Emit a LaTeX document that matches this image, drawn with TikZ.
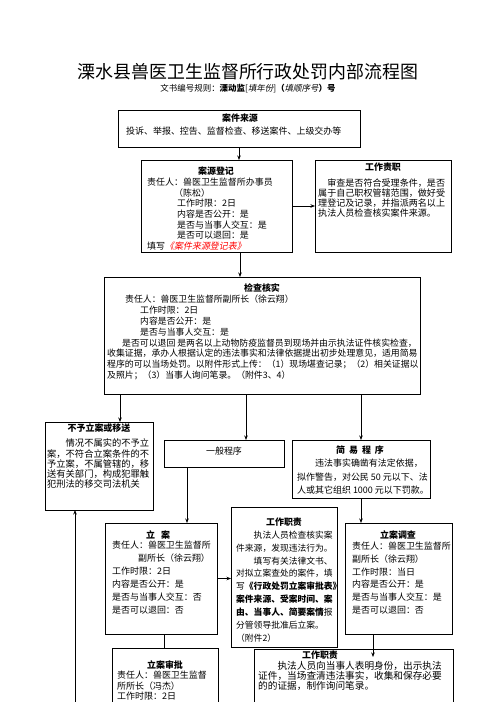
\documentclass[tikz,border=0pt]{standalone}
\usepackage{fontspec}
\setmainfont{Noto Sans CJK SC}
\newfontfamily\slantfont{Noto Sans CJK SC}[FakeSlant=0.2]
\usepackage{xcolor}
\usetikzlibrary{positioning,arrows.meta}

\tikzset{
  box/.style={draw, line width=0.8bp, anchor=north west, inner sep=0pt, outer sep=0pt},
  head/.style={font=\bfseries\fontsize{9}{11}\selectfont, inner sep=0pt},
  body/.style n args={2}{anchor=north west, align=left, inner sep=0pt, font=\fontsize{#1}{#2}\selectfont},
  link/.style={-{Stealth[length=4.5bp,width=3.5bp]}, line width=0.7bp},
  plain/.style={line width=0.7bp},
}

\begin{document}
\begin{tikzpicture}[x=1bp,y=-1bp]
\useasboundingbox (0,0) rectangle (496,702);
\fill[white] (0,0) rectangle (496,702);
\clip (0,0) rectangle (496,702);

% title
\node[font=\fontsize{18}{20}\selectfont, inner sep=0pt] (title) at (248,72) {溧水县兽医卫生监督所行政处罚内部流程图};
\node[font=\fontsize{8.5}{10}\selectfont, inner sep=0pt] (rule) at (248,89)
  {文书编号规则：\textbf{溧动监}[{\slantfont 填年份}]\textbf{（}{\slantfont 填顺序号}\textbf{）号}};

% boxes
\node[box, minimum width=242bp, minimum height=37bp] (src) at (118,110) {};
\node[box, minimum width=151bp, minimum height=92bp] (reg) at (141,160) {};
\node[box, minimum width=136bp, minimum height=92bp] (duty1) at (315,160) {};
\node[box, minimum width=316bp, minimum height=117bp] (check) at (104,277) {};
\node[box, minimum width=108bp, minimum height=88bp] (noreg) at (45,422) {};
\node[box, minimum width=120bp, minimum height=27bp] (general) at (164,440) {};
\node[box, minimum width=138bp, minimum height=58bp] (simple) at (292,440) {};
\node[box, minimum width=112bp, minimum height=111bp] (file) at (105,523) {};
\node[box, minimum width=106bp, minimum height=140bp] (duty2) at (231,507) {};
\node[box, minimum width=107bp, minimum height=111bp] (invest) at (345,523) {};
\node[box, minimum width=106bp, minimum height=90bp] (approve) at (112,648) {};
\node[box, minimum width=199bp, minimum height=90bp] (duty3) at (254,649) {};

% 案件来源
\node[head] (srcT) at (240,118) {案件来源};
\node[body={9}{11}, anchor=west] (srcB) at (126,131) {投诉、举报、控告、监督检查、移送案件、上级交办等};

% 案源登记
\node[head] (regT) at (216,171) {案源登记};
\node[body={9}{10.7}] (regB) at (147,177.8) {责任人：兽医卫生监督所办事员\\
  \hspace*{27bp}（陈松）\\
  \hspace*{30bp}工作时限：2日\\
  \hspace*{30bp}内容是否公开：是\\
  \hspace*{30bp}是否与当事人交互：是\\
  \hspace*{30bp}是否可以退回：是\\
  填写{\color{red}\slantfont《案件来源登记表》}};

% 工作责职
\node[head] (duty1T) at (383,167) {工作责职};
\node[body={9.1}{10}] (duty1B) at (318,178.8) {　审查是否符合受理条件，是否\\
  属于自己职权管辖范围，做好受\\
  理登记及记录，并指派两名以上\\
  执法人员检查核实案件来源。};

% 检查核实
\node[head] (checkT) at (262,288) {检查核实};
\node[body={8.9}{10.9}] (checkB) at (107,294.8) {\hspace*{18bp}责任人：兽医卫生监督所副所长（徐云翔）\\
  \hspace*{33bp}工作时限：2日\\
  \hspace*{33bp}内容是否公开：是\\
  \hspace*{33bp}是否与当事人交互：是\\
  \hspace*{15bp}是否可以退回 是两名以上动物防疫监督员到现场并由示执法证件核实检查，\\
  收集证据，承办人根据认定的违法事实和法律依据提出初步处理意见，适用简易\\
  程序的可以当场处罚。以附件形式上传：（1）现场堪查记录；（2）相关证据以\\
  及照片；（3）当事人询问笔录。（附件3、4）};

% 不予立案或移送
\node[head] (noregT) at (99,428) {不予立案或移送};
\node[body={9.3}{10.2}] (noregB) at (47,438.8) {　　情况不属实的不予立\\
  案，不符合立案条件的不\\
  予立案，不属管辖的，移\\
  送有关部门，构成犯罪触\\
  犯刑法的移交司法机关};

% 一般程序
\node[body={9}{11}, anchor=center] (generalT) at (224,451) {一般程序};

% 简易程序
\node[head] (simpleT) at (360,450) {简\hspace{4bp}易\hspace{4bp}程\hspace{4bp}序};
\node[body={9}{13.5}] (simpleB) at (297,458.8) {　　违法事实确凿有法定依据，\\
  拟作警告，对公民 50 元以下、法\\
  人或其它组织 1000 元以下罚款。};

% 立案
\node[head] (fileT) at (158,535) {立\hspace{6bp}案};
\node[body={9}{13}] (fileB) at (112,540.8) {责任人：兽医卫生监督所\\
  \hspace*{26bp}副所长（徐云翔）\\
  工作时限：2日\\
  内容是否公开：是\\
  是否与当事人交互：否\\
  是否可以退回：否};

% 工作职责 (立案)
\node[head] (duty2T) at (284,522) {工作职责};
\node[body={8.8}{12.9}] (duty2B) at (236,530.8) {　　执法人员检查核实案\\
  件来源，发现违法行为。\\
  　　填写有关法律文书、\\
  对拟立案查处的案件，填\\
  写\textbf{《行政处罚立案审批表》}\\
  \textbf{案件来源、受案时间、案}\\
  \textbf{由、当事人、简要案情}报\\
  分管领导批准后立案。\\
  （附件2）};

% 立案调查
\node[head] (investT) at (398,535) {立案调查};
\node[body={9}{12.8}] (investB) at (352,541.8) {责任人：兽医卫生监督所\\
  副所长（徐云翔）\\
  工作时限：当日\\
  内容是否公开：是\\
  是否与当事人交互：是\\
  是否可以退回：否};

% 立案审批
\node[head] (approveT) at (165,665) {立案审批};
\node[body={9}{10.5}] (approveB) at (117,670.8) {责任人：兽医卫生监督\\
  所所长（冯杰）\\
  工作时限：2日};

% 工作职责 (调查)
\node[head] (duty3T) at (320,655) {工作职责};
\node[body={9.7}{10}] (duty3B) at (258,660.8) {　　执法人员向当事人表明身份，出示执法\\
  证件，当场查清违法事实，收集和保存必要\\
  的的证据，制作询问笔录。};

% columns of the connectors
\coordinate (spine) at (240,0);
\coordinate (colA) at (120,0);
\coordinate (colB) at (246,0);
\coordinate (colC) at (187,0);
\coordinate (colD) at (164,0);
\coordinate (colE) at (373,0);
\coordinate (back) at (75,702);
\coordinate (tip) at (373,657);

% connectors
\draw[link] (src.south) -- (src.south |- reg.north);
\draw[link] (spine |- reg.south) -- (spine |- check.north);
\draw[link] (reg.east) -- (reg.east -| duty1.west);
\draw[link] (colA |- check.south) -- (colA |- noreg.north);
\draw[link] (colB |- check.south) -- (colB |- general.north);
\draw[link] (simple.north |- check.south) -- (simple.north);
\draw[link] (colC |- general.south) -- (colC |- file.north);
\draw[link] (simple.south) -- (simple.south |- invest.north);
\draw[link] (file.east) -- (file.east -| duty2.west);
\draw[plain] (colD |- file.south) -- (colD |- approve.north);
\draw[link] (colE |- invest.south) -- (tip);
\draw[link] (back) -- (back |- noreg.south);
\end{tikzpicture}
\end{document}
